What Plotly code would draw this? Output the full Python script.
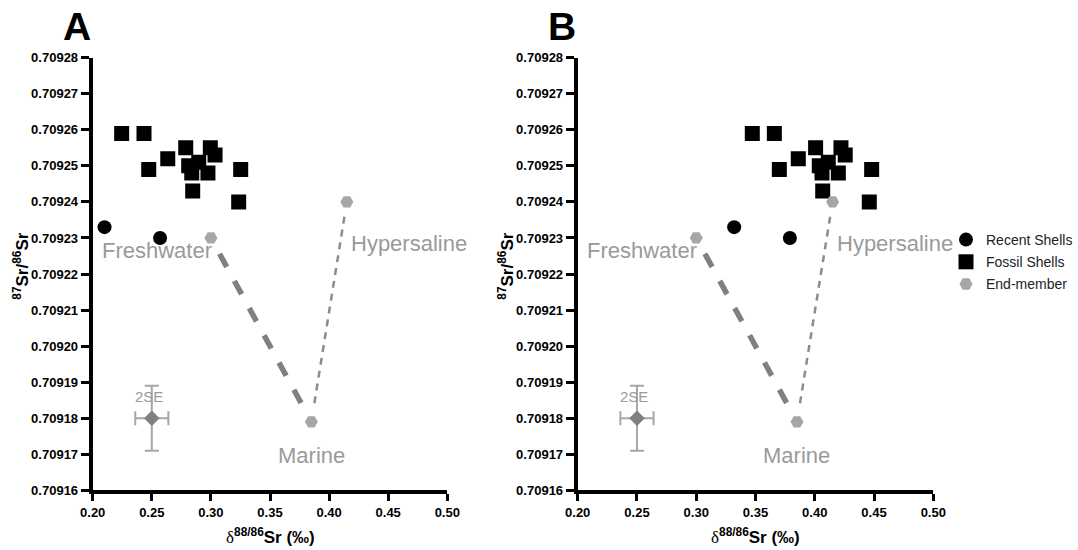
import plotly.graph_objects as go

# ---- data -------------------------------------------------------------
# Panel A: measured shells
recent_a_x = [0.210, 0.257]
recent_a_y = [0.709233, 0.709230]
fossil_a_x = [0.2245, 0.2434, 0.2787, 0.2635, 0.2474, 0.2995, 0.3035,
              0.2897, 0.2812, 0.2838, 0.2975, 0.2846, 0.3252, 0.3235]
fossil_y = [0.709259, 0.709259, 0.709255, 0.709252, 0.709249, 0.709255, 0.709253,
            0.709251, 0.709250, 0.709248, 0.709248, 0.709243, 0.709249, 0.709240]

# Panel B: shells after delta correction
recent_b_x = [0.332, 0.379]
recent_b_y = [0.709233, 0.709230]
fossil_b_x = [0.3473, 0.3659, 0.4007, 0.3861, 0.3701, 0.4221, 0.4257,
              0.4114, 0.4038, 0.4061, 0.4199, 0.4067, 0.4480, 0.4460]

# End-members (same in both panels)
end_names = ["Freshwater", "Marine", "Hypersaline"]
end_x = [0.300, 0.385, 0.415]
end_y = [0.70923, 0.709179, 0.70924]

# Typical analytical uncertainty (2SE)
se_x, se_y = [0.25], [0.70918]
se_err_x, se_err_y = 0.014, 0.000009

x_ticks = [0.20, 0.25, 0.30, 0.35, 0.40, 0.45, 0.50]
y_ticks = [0.70916, 0.70917, 0.70918, 0.70919, 0.70920, 0.70921, 0.70922,
           0.70923, 0.70924, 0.70925, 0.70926, 0.70927, 0.70928]

# ---- style ------------------------------------------------------------
FONT = "Arial, 'Liberation Sans', sans-serif"
LIGHT = "#a6a6a6"
MID = "#808080"
LABEL = "#9a9a9a"

W, H = 1078, 550
dom_y = [1 - 490.3 / H, 1 - 57.7 / H]
dom_xa = [92.7 / W, 447.3 / W]
dom_xb = [577.7 / W, 933.3 / W]


def dash_list(lead, on, off, count, tail=200):
    parts = ["0px", f"{lead}px"]
    for _ in range(count - 1):
        parts += [f"{on}px", f"{off}px"]
    parts += [f"{on}px", f"{tail}px"]
    return ",".join(parts)


thick_dash = dash_list(18, 15, 16, 6)
thin_dash = dash_list(15, 7, 6, 15)

fig = go.Figure()


def add_panel(xa, ya, recent_x, recent_y, fossil_x, show):
    fi, ma, hy = 0, 1, 2
    # mixing lines
    fig.add_trace(go.Scatter(
        x=[end_x[fi], end_x[ma]], y=[end_y[fi], end_y[ma]], mode="lines",
        line=dict(color=MID, width=5.5, dash=thick_dash),
        showlegend=False, hoverinfo="skip", xaxis=xa, yaxis=ya))
    fig.add_trace(go.Scatter(
        x=[end_x[hy], end_x[ma]], y=[end_y[hy], end_y[ma]], mode="lines",
        line=dict(color="#8c8c8c", width=2.5, dash=thin_dash),
        showlegend=False, hoverinfo="skip", xaxis=xa, yaxis=ya))
    # 2SE cross
    fig.add_trace(go.Scatter(
        x=se_x, y=se_y, mode="markers",
        marker=dict(symbol="diamond", size=12, color=MID),
        error_x=dict(type="constant", value=se_err_x, color=LIGHT, thickness=2, width=7),
        error_y=dict(type="constant", value=se_err_y, color=LIGHT, thickness=2, width=7),
        showlegend=False, xaxis=xa, yaxis=ya))
    fig.add_trace(go.Scatter(
        x=recent_x, y=recent_y, mode="markers", name="Recent Shells",
        legendgroup="recent",
        marker=dict(symbol="circle", size=14, color="black"),
        showlegend=show, xaxis=xa, yaxis=ya))
    fig.add_trace(go.Scatter(
        x=fossil_x, y=fossil_y, mode="markers", name="Fossil Shells",
        legendgroup="fossil",
        marker=dict(symbol="square", size=15, color="black"),
        showlegend=show, xaxis=xa, yaxis=ya))
    fig.add_trace(go.Scatter(
        x=end_x, y=end_y, mode="markers", name="End-member",
        legendgroup="end",
        marker=dict(symbol="hexagon2", size=13, color=LIGHT),
        showlegend=show, xaxis=xa, yaxis=ya))


add_panel("x", "y", recent_a_x, recent_a_y, fossil_a_x, False)
add_panel("x2", "y2", recent_b_x, recent_b_y, fossil_b_x, True)

axis_common = dict(
    showline=True, linewidth=4, linecolor="#000000",
    ticks="outside", tickwidth=3, tickcolor="#000000",
    showgrid=False, zeroline=False,
    tickfont=dict(family=FONT, size=13, color="black", weight="bold"),
)
xaxis_cfg = dict(axis_common, range=[0.2, 0.5], tickvals=x_ticks, ticklen=7,
                 ticktext=[f"{v:.2f}" for v in x_ticks])
yaxis_cfg = dict(axis_common, range=[0.70916, 0.70928], tickvals=y_ticks, ticklen=8,
                 ticktext=[f"{v:.5f}" for v in y_ticks])

fig.update_layout(
    width=W, height=H,
    margin=dict(l=0, r=0, t=0, b=0, autoexpand=False),
    paper_bgcolor="white", plot_bgcolor="white",
    font=dict(family=FONT, color="black"),
    xaxis=dict(xaxis_cfg, domain=dom_xa, anchor="y"),
    yaxis=dict(yaxis_cfg, domain=dom_y, anchor="x"),
    xaxis2=dict(xaxis_cfg, domain=dom_xb, anchor="y2"),
    yaxis2=dict(yaxis_cfg, domain=dom_y, anchor="x2"),
    legend=dict(x=946 / W, y=1 - 224 / H, xanchor="left", yanchor="top",
                font=dict(family=FONT, size=14, color="#222222"),
                bgcolor="rgba(0,0,0,0)", traceorder="grouped",
                tracegroupgap=1, itemsizing="trace"),
    showlegend=True,
)

annotations = []
x_title = ("<span style=\"font-family:'Liberation Serif'\">δ</span>"
           "<b><sup>88/86</sup>Sr (‰)</b>")
y_title = "<b><sup>87</sup>Sr/<sup>86</sup>Sr</b>"
for xa, ya, dom, letter in (("x", "y", dom_xa, "A"), ("x2", "y2", dom_xb, "B")):
    mid = (dom[0] + dom[1]) / 2
    annotations.append(dict(text=x_title, x=mid, y=1 - 536 / H, xref="paper", yref="paper",
                            xanchor="center", yanchor="middle",
                            showarrow=False, font=dict(size=17, family=FONT)))
    annotations.append(dict(text=y_title, x=dom[0] - 72 / W, y=1 - 266 / H,
                            xref="paper", yref="paper", textangle=-90,
                            xanchor="center", yanchor="middle",
                            showarrow=False, font=dict(size=17, family=FONT)))
    annotations.append(dict(text=f"<b>{letter}</b>", x=dom[0] - 16 / W, y=1 - 27 / H,
                            xref="paper", yref="paper", showarrow=False,
                            xanchor="center", yanchor="middle",
                            font=dict(size=39, family=FONT, color="black")))
    # end-member names
    annotations.append(dict(text=end_names[0], x=end_x[0], y=end_y[0], xref=xa, yref=ya,
                            xanchor="right", yanchor="middle", xshift=3, yshift=-13,
                            showarrow=False, font=dict(size=22, color=LABEL)))
    annotations.append(dict(text=end_names[1], x=end_x[1], y=end_y[1], xref=xa, yref=ya,
                            xanchor="center", yanchor="middle", yshift=-34,
                            showarrow=False, font=dict(size=22, color=LABEL)))
    annotations.append(dict(text=end_names[2], x=end_x[2], y=end_y[2], xref=xa, yref=ya,
                            xanchor="left", yanchor="middle", xshift=2, yshift=-42,
                            showarrow=False, font=dict(size=22, color=LABEL)))
    annotations.append(dict(text="2SE", x=se_x[0], y=se_y[0], xref=xa, yref=ya,
                            xanchor="center", yanchor="middle", xshift=-3, yshift=22,
                            showarrow=False, font=dict(size=15, color=LABEL)))
fig.update_layout(annotations=annotations)

fig.write_html("out.html")
